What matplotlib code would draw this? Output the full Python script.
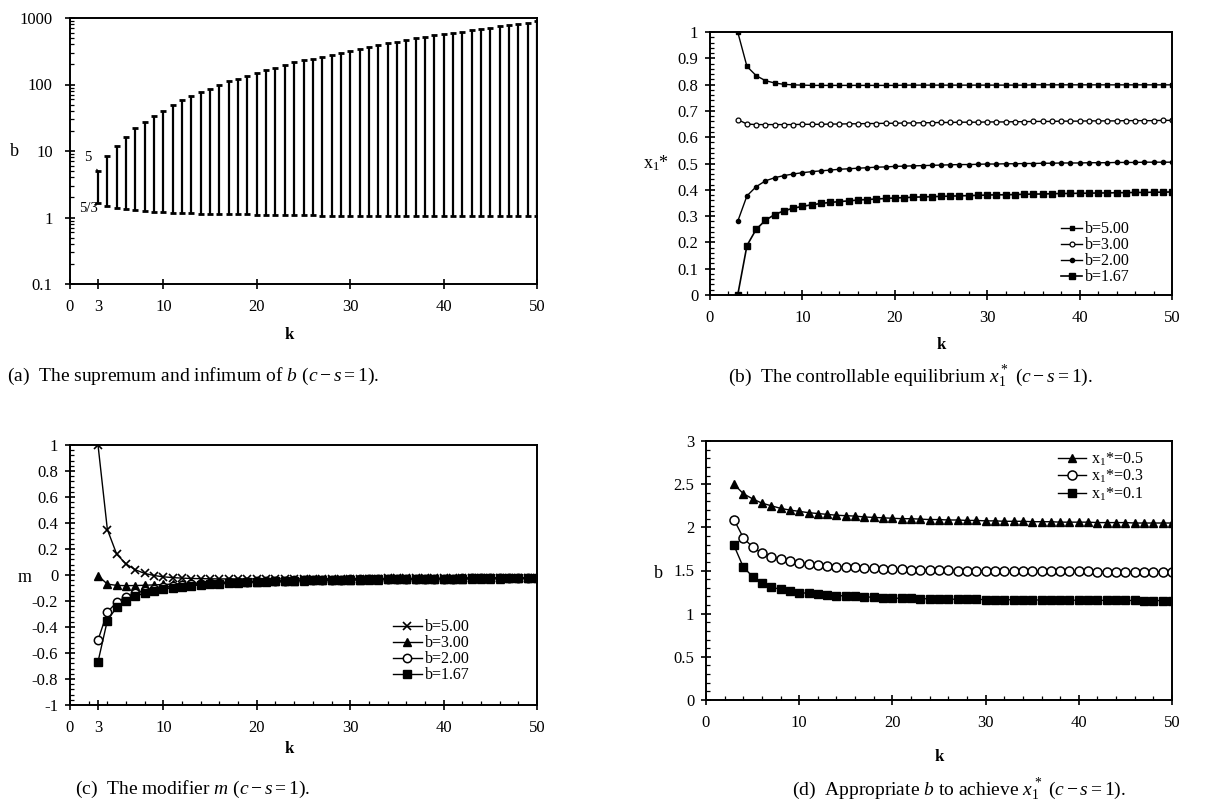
import numpy as np
import matplotlib
matplotlib.use("Agg")
import matplotlib.pyplot as plt
from matplotlib.ticker import MultipleLocator, FixedLocator, LogLocator, NullFormatter

plt.rcParams['font.family'] = ['Liberation Serif', 'DejaVu Serif']
plt.rcParams['mathtext.fontset'] = 'custom'
plt.rcParams['mathtext.rm'] = 'Liberation Serif'
plt.rcParams['mathtext.it'] = 'Liberation Serif:italic'

### data #####
k = np.arange(3, 51)

# (a) supremum / infimum of b
b_sup = [5, 8.3, 11.9, 16.5, 21.8, 27.4, 33.7, 40, 48.8, 57.5,
         66.7, 76.6, 87, 97.6, 111, 123, 136, 149, 164, 180,
         197, 216, 230, 246, 262, 280, 300, 320, 345, 365,
         390, 414, 440, 466, 494, 520, 546, 572, 598, 625,
         655, 685, 715, 748, 780, 815, 848, 890]
b_inf = [1.67, 1.50, 1.40, 1.33, 1.29, 1.25, 1.22, 1.20, 1.18, 1.17,
         1.15, 1.14, 1.13, 1.13, 1.12, 1.11, 1.11, 1.10, 1.10, 1.09,
         1.09, 1.08, 1.08, 1.08, 1.07, 1.07, 1.07, 1.07, 1.06, 1.06,
         1.06, 1.06, 1.06, 1.06, 1.05, 1.05, 1.05, 1.05, 1.05, 1.05,
         1.05, 1.04, 1.04, 1.04, 1.04, 1.04, 1.04, 1.04]

# (b) controllable equilibrium x1*
x_b500 = [1.000, 0.869, 0.834, 0.815, 0.806, 0.801, 0.799, 0.798, 0.797, 0.797,
          0.797, 0.797, 0.797, 0.797, 0.797, 0.797, 0.797, 0.797, 0.798, 0.798,
          0.798, 0.798, 0.798, 0.798, 0.798, 0.798, 0.798, 0.798, 0.798, 0.798,
          0.798, 0.798, 0.799, 0.799, 0.799, 0.799, 0.799, 0.799, 0.799, 0.799,
          0.799, 0.799, 0.799, 0.799, 0.799, 0.799, 0.799, 0.799]
x_b300 = [0.667, 0.650, 0.648, 0.648, 0.648, 0.648, 0.648, 0.649, 0.649, 0.649,
          0.650, 0.650, 0.651, 0.651, 0.652, 0.652, 0.653, 0.653, 0.654, 0.654,
          0.655, 0.655, 0.656, 0.656, 0.657, 0.657, 0.657, 0.658, 0.658, 0.658,
          0.659, 0.659, 0.660, 0.660, 0.660, 0.661, 0.661, 0.661, 0.662, 0.662,
          0.662, 0.662, 0.663, 0.663, 0.663, 0.663, 0.664, 0.664]
x_b200 = [0.280, 0.377, 0.412, 0.434, 0.446, 0.454, 0.460, 0.465, 0.469, 0.472,
          0.475, 0.478, 0.480, 0.482, 0.484, 0.486, 0.487, 0.489, 0.490, 0.491,
          0.492, 0.493, 0.494, 0.495, 0.496, 0.496, 0.497, 0.498, 0.498, 0.499,
          0.499, 0.500, 0.500, 0.501, 0.501, 0.502, 0.502, 0.502, 0.503, 0.503,
          0.503, 0.504, 0.504, 0.504, 0.505, 0.505, 0.505, 0.505]
x_b167 = [0.000, 0.188, 0.250, 0.284, 0.306, 0.320, 0.330, 0.337, 0.343, 0.348,
          0.352, 0.355, 0.358, 0.361, 0.363, 0.365, 0.367, 0.369, 0.370, 0.372,
          0.373, 0.374, 0.375, 0.376, 0.377, 0.378, 0.379, 0.380, 0.381, 0.381,
          0.382, 0.383, 0.384, 0.384, 0.385, 0.386, 0.386, 0.387, 0.387, 0.388,
          0.388, 0.389, 0.389, 0.390, 0.390, 0.391, 0.391, 0.392]

# (c) modifier m
m_b500 = [1.00, 0.35, 0.16, 0.085, 0.04, 0.012, -0.004, -0.014, -0.020, -0.024,
          -0.027, -0.028, -0.029, -0.030, -0.030, -0.030, -0.030, -0.030, -0.030, -0.030,
          -0.030, -0.030, -0.029, -0.029, -0.029, -0.028, -0.028, -0.028, -0.027, -0.027,
          -0.027, -0.026, -0.026, -0.026, -0.025, -0.025, -0.025, -0.024, -0.024, -0.024,
          -0.023, -0.023, -0.023, -0.022, -0.022, -0.022, -0.022, -0.021]
m_b300 = [-0.005, -0.070, -0.080, -0.082, -0.081, -0.079, -0.076, -0.073, -0.070, -0.067,
          -0.065, -0.062, -0.060, -0.058, -0.056, -0.054, -0.052, -0.050, -0.049, -0.047,
          -0.046, -0.044, -0.043, -0.042, -0.041, -0.040, -0.039, -0.038, -0.037, -0.036,
          -0.035, -0.034, -0.033, -0.033, -0.032, -0.031, -0.031, -0.030, -0.029, -0.029,
          -0.028, -0.028, -0.027, -0.027, -0.026, -0.026, -0.025, -0.025]
m_b200 = [-0.500, -0.285, -0.210, -0.167, -0.140, -0.120, -0.106, -0.095, -0.086, -0.079,
          -0.073, -0.068, -0.064, -0.060, -0.057, -0.054, -0.051, -0.049, -0.047, -0.045,
          -0.043, -0.042, -0.040, -0.039, -0.038, -0.036, -0.035, -0.034, -0.033, -0.033,
          -0.032, -0.031, -0.030, -0.030, -0.029, -0.028, -0.028, -0.027, -0.027, -0.026,
          -0.026, -0.025, -0.025, -0.024, -0.024, -0.024, -0.023, -0.023]
m_b167 = [-0.667, -0.350, -0.248, -0.198, -0.163, -0.140, -0.122, -0.109, -0.098, -0.089,
          -0.082, -0.076, -0.070, -0.066, -0.062, -0.058, -0.055, -0.052, -0.050, -0.048,
          -0.046, -0.044, -0.042, -0.041, -0.039, -0.038, -0.037, -0.036, -0.035, -0.034,
          -0.033, -0.032, -0.031, -0.031, -0.030, -0.029, -0.029, -0.028, -0.027, -0.027,
          -0.026, -0.026, -0.025, -0.025, -0.025, -0.024, -0.024, -0.023]

# (d) appropriate b for a given x1*
b_x05 = [2.50, 2.39, 2.33, 2.28, 2.25, 2.22, 2.20, 2.185, 2.17, 2.16,
         2.15, 2.14, 2.135, 2.13, 2.12, 2.115, 2.11, 2.105, 2.10, 2.10,
         2.095, 2.09, 2.09, 2.085, 2.085, 2.08, 2.08, 2.075, 2.075, 2.07,
         2.07, 2.07, 2.065, 2.065, 2.065, 2.06, 2.06, 2.06, 2.06, 2.055,
         2.055, 2.055, 2.055, 2.05, 2.05, 2.05, 2.05, 2.05]
b_x03 = [2.09, 1.88, 1.77, 1.70, 1.66, 1.63, 1.61, 1.59, 1.575, 1.565,
         1.555, 1.545, 1.54, 1.535, 1.53, 1.525, 1.52, 1.515, 1.512, 1.51,
         1.508, 1.506, 1.504, 1.502, 1.50, 1.50, 1.498, 1.497, 1.496, 1.495,
         1.494, 1.493, 1.492, 1.492, 1.491, 1.490, 1.490, 1.489, 1.489, 1.488,
         1.488, 1.487, 1.487, 1.487, 1.486, 1.486, 1.486, 1.485]
b_x01 = [1.79, 1.54, 1.43, 1.36, 1.31, 1.28, 1.26, 1.245, 1.235, 1.225,
         1.215, 1.21, 1.205, 1.20, 1.195, 1.19, 1.185, 1.18, 1.178, 1.176,
         1.174, 1.172, 1.17, 1.168, 1.167, 1.166, 1.165, 1.164, 1.163, 1.162,
         1.161, 1.160, 1.159, 1.158, 1.158, 1.157, 1.156, 1.156, 1.155, 1.155,
         1.154, 1.154, 1.153, 1.153, 1.152, 1.152, 1.152, 1.151]
#######

W, H = 1208, 810
fig = plt.figure(figsize=(W / 100, H / 100), dpi=100)


def box(l, r, t, b):
    return [l / W, 1 - b / H, (r - l) / W, (b - t) / H]


def style(ax):
    for s in ax.spines.values():
        s.set_linewidth(1.4)
    ax.tick_params(which='major', direction='inout', length=7, width=1.2,
                   labelsize=12, pad=5)
    ax.tick_params(axis='x', which='major', pad=7)
    ax.tick_params(which='minor', direction='in', length=3, width=0.9)
    ax.set_xlim(0, 50)


# ---- (a)
ax = fig.add_axes(box(70, 537, 18, 284))
style(ax)
ax.set_yscale('log')
ax.set_ylim(0.1, 1000)
ax.set_yticks([0.1, 1, 10, 100, 1000])
ax.set_yticklabels(['0.1', '1', '10', '100', '1000'])
ax.yaxis.set_minor_locator(LogLocator(base=10, subs=np.arange(2, 10)))
ax.yaxis.set_minor_formatter(NullFormatter())
ax.set_xticks([0, 3, 10, 20, 30, 40, 50])
ax.tick_params(axis='y', which='major', pad=9)
ax.vlines(k, b_inf, b_sup, color='k', lw=1.6)
ax.plot(k, b_sup, '_', color='k', ms=5, mew=2)
ax.plot(k, b_inf, '_', color='k', ms=5, mew=2)
ax.annotate('5', xy=(3, 5), xytext=(1.9, 8.0), fontsize=10.5, ha='center', va='center',
            arrowprops=dict(arrowstyle='-', lw=0.8, shrinkA=3, shrinkB=0))
ax.annotate('5/3', xy=(3, 1.67), xytext=(2.0, 1.35), fontsize=10.5, ha='center', va='center',
            arrowprops=dict(arrowstyle='-', lw=0.8, shrinkA=5, shrinkB=0))
ax.set_xlabel('k', fontsize=12, fontweight='bold')
ax.xaxis.set_label_coords(0.47, -0.16)
ax.set_ylabel('b', fontsize=13, rotation=0, va='center')
ax.yaxis.set_label_coords(-0.118, 0.5)

# ---- (b)
ax = fig.add_axes(box(710, 1172, 32, 295))
style(ax)
ax.set_ylim(0, 1)
ax.yaxis.set_major_locator(FixedLocator(np.linspace(0, 1, 11)))
ax.set_yticklabels(['0', '0.1', '0.2', '0.3', '0.4', '0.5', '0.6', '0.7', '0.8', '0.9', '1'])
ax.yaxis.set_minor_locator(MultipleLocator(0.02))
ax.xaxis.set_major_locator(MultipleLocator(10))
ax.xaxis.set_minor_locator(MultipleLocator(2))
ax.plot(k, x_b500, '-s', color='k', lw=1, ms=3, label='b=5.00')
ax.plot(k, x_b300, '-o', color='k', lw=1, ms=3.5, mfc='white', mew=0.9, label='b=3.00')
ax.plot(k, x_b200, '-o', color='k', lw=1, ms=3, label='b=2.00')
ax.plot(k, x_b167, '-s', color='k', lw=1.2, ms=4, label='b=1.67')
ax.legend(loc='lower right', frameon=False, fontsize=11.5, handlelength=1.3,
          handletextpad=0.2, labelspacing=0.0, borderaxespad=0.2,
          bbox_to_anchor=(0.93, 0.0))
ax.set_xlabel('k', fontsize=12, fontweight='bold')
ax.xaxis.set_label_coords(0.5, -0.16)
ax.set_ylabel('x$_1$*', fontsize=13, rotation=0, va='center')
ax.yaxis.set_label_coords(-0.117, 0.5)

# ---- (c)
ax = fig.add_axes(box(70, 537, 445, 705))
style(ax)
ax.set_ylim(-1, 1)
ax.yaxis.set_major_locator(FixedLocator(np.linspace(-1, 1, 11)))
ax.set_yticklabels(['-1', '-0.8', '-0.6', '-0.4', '-0.2', '0', '0.2', '0.4', '0.6', '0.8', '1'])
ax.yaxis.set_minor_locator(MultipleLocator(0.04))
ax.set_xticks([0, 3, 10, 20, 30, 40, 50])
ax.xaxis.set_minor_locator(MultipleLocator(2))
ax.plot(k, m_b500, '-x', color='k', lw=1, ms=6, mew=1.2, label='b=5.00')
ax.plot(k, m_b300, '-^', color='k', lw=1, ms=5.5, label='b=3.00')
ax.plot(k, m_b200, '-o', color='k', lw=1, ms=6, mfc='white', mew=1.1, label='b=2.00')
ax.plot(k, m_b167, '-s', color='k', lw=1, ms=5.5, label='b=1.67')
ax.legend(loc='lower right', frameon=False, fontsize=11.5, handlelength=1.8,
          handletextpad=0.2, labelspacing=0.0, borderaxespad=0.3,
          bbox_to_anchor=(0.88, 0.04))
ax.set_xlabel('k', fontsize=12, fontweight='bold')
ax.xaxis.set_label_coords(0.47, -0.14)
ax.set_ylabel('m', fontsize=13, rotation=0, va='center')
ax.yaxis.set_label_coords(-0.096, 0.49)

# ---- (d)
ax = fig.add_axes(box(706, 1172, 441, 700))
style(ax)
ax.set_ylim(0, 3)
ax.yaxis.set_major_locator(FixedLocator([0, 0.5, 1, 1.5, 2, 2.5, 3]))
ax.set_yticklabels(['0', '0.5', '1', '1.5', '2', '2.5', '3'])
ax.yaxis.set_minor_locator(MultipleLocator(0.1))
ax.xaxis.set_major_locator(MultipleLocator(10))
ax.xaxis.set_minor_locator(MultipleLocator(2))
ax.plot(k, b_x05, '-^', color='k', lw=1, ms=6, label='x$_1$*=0.5')
ax.plot(k, b_x03, '-o', color='k', lw=1, ms=6.5, mfc='white', mew=1.1, label='x$_1$*=0.3')
ax.plot(k, b_x01, '-s', color='k', lw=1, ms=5.5, label='x$_1$*=0.1')
ax.legend(loc='upper right', frameon=False, fontsize=11.5, handlelength=1.8,
          handletextpad=0.3, labelspacing=0.0, borderaxespad=0.2,
          bbox_to_anchor=(0.96, 1.0))
ax.set_xlabel('k', fontsize=12, fontweight='bold')
ax.xaxis.set_label_coords(0.5, -0.19)
ax.set_ylabel('b', fontsize=13, rotation=0, va='center')
ax.yaxis.set_label_coords(-0.103, 0.49)

# ---- captions
cap = dict(fontsize=14, ha='center', va='center')
fig.text(193 / W, 1 - 376 / H, r'(a)  The supremum and infimum of $b$ $(c-s=1)$.', **cap)
fig.text(910 / W, 1 - 376 / H, r'(b)  The controllable equilibrium $x_1^*$ $(c-s=1)$.', **cap)
fig.text(193 / W, 1 - 789 / H, r'(c)  The modifier $m$ $(c-s=1)$.', **cap)
fig.text(959 / W, 1 - 789 / H, r'(d)  Appropriate $b$ to achieve $x_1^*$ $(c-s=1)$.', **cap)

fig.savefig('out.png', dpi=100)
